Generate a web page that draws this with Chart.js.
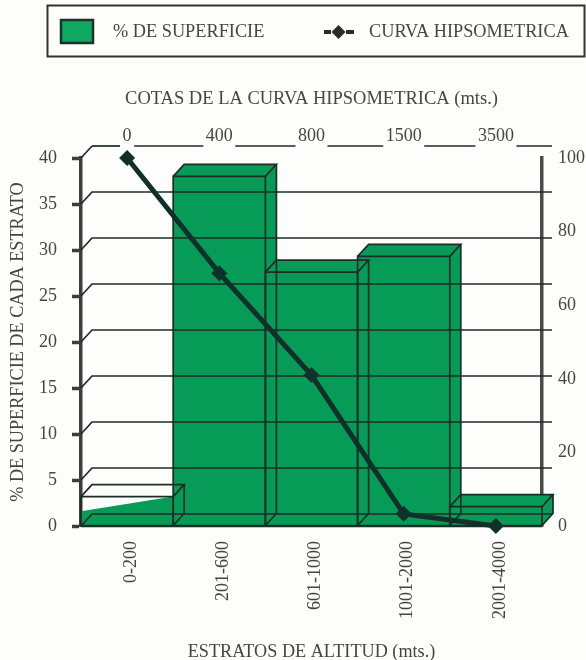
<!DOCTYPE html>
<html>
<head>
<meta charset="utf-8">
<title>Curva hipsometrica</title>
<script src="https://cdn.jsdelivr.net/npm/chart.js@4"></script>
<style>
    html, body { margin: 0; padding: 0; background: #fdfdfb; }
    canvas { display: block; }
</style>
</head>
<body>
<canvas id="hipso-chart" width="586" height="660"></canvas>
<script>
// values
const categories = ['0-200', '201-600', '601-1000', '1001-2000', '2001-4000'];
const cotas = ['0', '400', '800', '1500', '3500'];
const superficie = [3.2, 38, 27.6, 29.3, 2.1];
const curva = [100, 68.7, 41, 3.3, 0];
// the first bar is only filled up to a sloped edge, from this value on its left side
const firstBarLeftValue = 1.6;

const legendSuperficie = '% DE SUPERFICIE';
const legendCurva = 'CURVA HIPSOMETRICA';
const titleTop = 'COTAS DE LA CURVA HIPSOMETRICA (mts.)';
const titleBottom = 'ESTRATOS DE ALTITUD (mts.)';
const titleLeft = '% DE SUPERFICIE DE CADA ESTRATO';

const GREEN = '#069b56';
const WIRE = '#1c2c27';
const AXIS = '#3d3d3d';
const TEXT = '#454545';
const FONT = '"Liberation Serif", serif';
const DX = 11, DY = 12;   // depth of the fake 3D
const GRID_END = 552;

function line(ctx, pts) {
    ctx.beginPath();
    ctx.moveTo(pts[0][0], pts[0][1]);
    for (var i = 1; i < pts.length; i++) ctx.lineTo(pts[i][0], pts[i][1]);
    ctx.stroke();
}

function poly(ctx, pts) {
    ctx.beginPath();
    ctx.moveTo(pts[0][0], pts[0][1]);
    for (var i = 1; i < pts.length; i++) ctx.lineTo(pts[i][0], pts[i][1]);
    ctx.closePath();
    ctx.fill();
}

// depth faces of the bars, under the library's own front faces
const barFaces = {
    id: 'barFaces',
    beforeDatasetDraw: function(chart, args) {
        if (args.index !== 0) return;
        const ctx = chart.ctx;
        const y = chart.scales.y;
        const bars = chart.getDatasetMeta(0).data;
        ctx.save();
        ctx.fillStyle = GREEN;
        bars.forEach(function(bar, i) {
            const l = bar.x - bar.width / 2, r = bar.x + bar.width / 2;
            if (i === 0) {
                poly(ctx, [[l, bar.base], [l, y.getPixelForValue(firstBarLeftValue)], [r, bar.y], [r + DX, bar.y], [r + DX, bar.base - DY], [r, bar.base]]);
                return;
            }
            poly(ctx, [[l, bar.y], [l + DX, bar.y - DY], [r + DX, bar.y - DY], [r + DX, bar.base - DY], [r, bar.base], [r, bar.y]]);
        });
        ctx.restore();
    },
    // grid and wire lines run over the bars but stay under the curve
    afterDatasetDraw: function(chart, args) {
        if (args.index !== 0) return;
        const ctx = chart.ctx;
        const area = chart.chartArea;
        const y = chart.scales.y;
        const x2 = chart.scales.x2;
        const bars = chart.getDatasetMeta(0).data;
        ctx.save();
        ctx.strokeStyle = WIRE;
        ctx.lineWidth = 1.7;

        y.ticks.forEach(function(t) {
            const py = y.getPixelForValue(t.value);
            if (t.value === y.max) {
                line(ctx, [[area.left, py], [area.left + DX, py - DY]]);
                // top edge is broken where the cotas labels sit
                ctx.font = '18px ' + FONT;
                var from = area.left + DX;
                cotas.forEach(function(c, i) {
                    const half = ctx.measureText(c).width / 2 + 2.5;
                    const cx = x2.getPixelForTick(i);
                    line(ctx, [[from, py - DY], [cx - half, py - DY]]);
                    from = cx + half;
                });
                line(ctx, [[from, py - DY], [GRID_END, py - DY]]);
            } else {
                line(ctx, [[area.left, py], [area.left + DX, py - DY], [GRID_END, py - DY]]);
            }
        });

        bars.forEach(function(bar) {
            const l = bar.x - bar.width / 2, r = bar.x + bar.width / 2;
            line(ctx, [[l, bar.base], [l, bar.y], [r, bar.y], [r, bar.base]]);
            line(ctx, [[l, bar.y], [l + DX, bar.y - DY], [r + DX, bar.y - DY], [r, bar.y]]);
            line(ctx, [[r + DX, bar.y - DY], [r + DX, bar.base - DY], [r, bar.base]]);
        });

        ctx.lineWidth = 2.5;
        line(ctx, [[area.left, area.bottom], [area.right, area.bottom]]);
        ctx.restore();
    }
};

// legend in its frame, drawn on the canvas
const legendFrame = {
    id: 'legendFrame',
    afterDraw: function(chart) {
        const ctx = chart.ctx;
        ctx.save();
        ctx.strokeStyle = '#333';
        ctx.lineWidth = 2;
        ctx.strokeRect(47.5, 5.5, 537, 51);

        ctx.fillStyle = '#0fa860';
        ctx.fillRect(61, 20, 32, 23);
        ctx.strokeStyle = '#17352a';
        ctx.lineWidth = 2.5;
        ctx.strokeRect(61, 20, 32, 23);

        ctx.strokeStyle = '#2a2a2a';
        ctx.lineWidth = 4;
        line(ctx, [[324, 32], [331, 32]]);
        line(ctx, [[346, 32], [354, 32]]);
        ctx.fillStyle = '#2a2a2a';
        poly(ctx, [[338.5, 25], [345.5, 32], [338.5, 39], [331.5, 32]]);

        ctx.fillStyle = TEXT;
        ctx.font = '18.3px ' + FONT;
        ctx.textBaseline = 'middle';
        ctx.fillText(legendSuperficie, 113, 32);
        ctx.fillText(legendCurva, 369, 32);
        ctx.restore();
    }
};

new Chart(document.getElementById('hipso-chart'), {
    type: 'bar',
    plugins: [barFaces, legendFrame],
    data: {
        labels: categories,
        datasets: [{
            type: 'bar',
            label: legendSuperficie,
            data: superficie,
            xAxisID: 'x',
            yAxisID: 'y',
            order: 2,
            barPercentage: 1,
            categoryPercentage: 1,
            backgroundColor: function(c) { return c.dataIndex === 0 ? 'rgba(0,0,0,0)' : GREEN; }
        }, {
            type: 'line',
            label: legendCurva,
            data: curva,
            xAxisID: 'x',
            yAxisID: 'y2',
            order: 1,
            clip: false,
            borderColor: '#12302a',
            borderWidth: 5,
            tension: 0,
            pointStyle: 'rectRot',
            pointRadius: 8,
            pointBackgroundColor: '#12302a',
            pointBorderColor: '#12302a',
            pointBorderWidth: 0
        }]
    },
    options: {
        responsive: false,
        animation: false,
        layout: { padding: 0 },
        plugins: {
            legend: { display: false },
            tooltip: { enabled: false }
        },
        scales: {
            x: {
                position: 'bottom',
                offset: true,
                afterFit: function(s) { s.height = 134; },
                grid: { display: false },
                border: { display: false },
                ticks: {
                    autoSkip: false, minRotation: 90, maxRotation: 90, padding: 7, labelOffset: 4,
                    color: TEXT, font: { family: FONT, size: 18 }
                },
                title: {
                    display: true, text: titleBottom, color: TEXT,
                    font: { family: FONT, size: 18.2 }, padding: { top: 0, bottom: -3 }
                }
            },
            x2: {
                type: 'category',
                labels: cotas,
                position: 'top',
                offset: true,
                afterFit: function(s) { s.height = 158; },
                grid: { display: false },
                border: { display: false },
                ticks: {
                    autoSkip: false, maxRotation: 0, padding: 3,
                    color: TEXT, font: { family: FONT, size: 18 }
                },
                title: {
                    display: true, text: titleTop, color: TEXT,
                    font: { family: FONT, size: 18.5 }, padding: { top: 88, bottom: 0 }
                }
            },
            y: {
                position: 'left',
                min: 0,
                max: 40,
                z: 1,
                afterFit: function(s) { s.width = 81; },
                grid: { drawOnChartArea: false, drawTicks: true, tickLength: 9, tickWidth: 3.5, tickColor: AXIS },
                border: { color: AXIS, width: 3.5 },
                ticks: { stepSize: 5, padding: 15, color: TEXT, font: { family: FONT, size: 18 } },
                title: {
                    display: true, text: titleLeft, color: TEXT,
                    font: { family: FONT, size: 18.2 }, padding: { top: 7, bottom: 0 }
                }
            },
            y2: {
                position: 'right',
                min: 0,
                max: 100,
                afterFit: function(s) { s.width = 44; },
                grid: { drawOnChartArea: false, drawTicks: false },
                border: { color: '#4a4a4a', width: 3.5 },
                ticks: { stepSize: 20, padding: 16, color: TEXT, font: { family: FONT, size: 18 } }
            }
        }
    }
});
</script>
</body>
</html>
